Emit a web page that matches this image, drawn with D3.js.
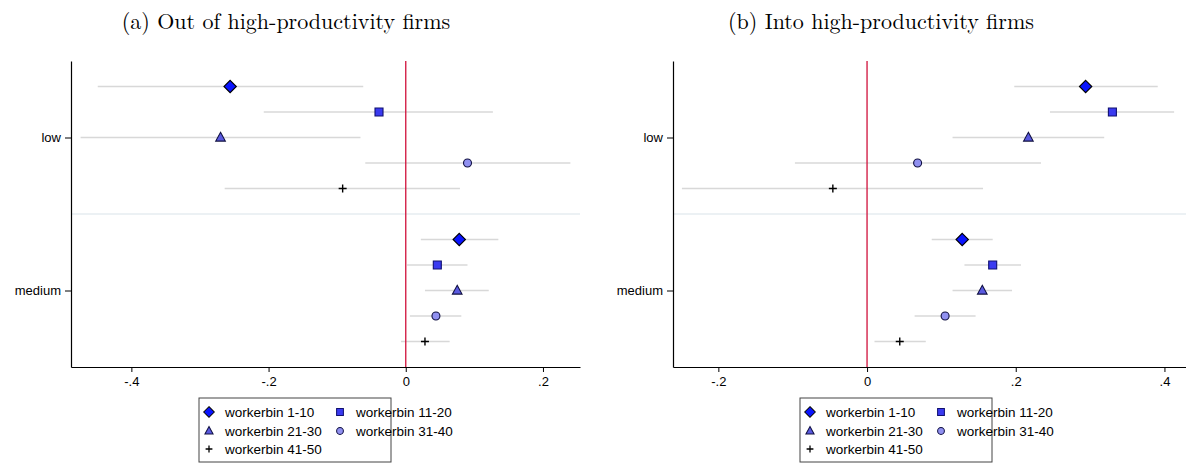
<!DOCTYPE html>
<html>
<head>
<meta charset="utf-8">
<script src="https://cdn.jsdelivr.net/npm/d3@7"></script>
<style>
  html, body { margin: 0; padding: 0; background: #fff; }
  svg { display: block; }
</style>
</head>
<body>
<svg id="chart" width="1186" height="464"></svg>
<script>
// Groups on the vertical axis and the five worker bins plotted in each group
const categories = ["low", "medium"];
const seriesNames = ["workerbin 1-10", "workerbin 11-20", "workerbin 21-30", "workerbin 31-40", "workerbin 41-50"];

// Panel (a): moves out of high-productivity firms — point estimates and 95% bounds
const outLowCoef   = [-0.256, -0.039, -0.270,  0.090, -0.092];
const outLowLo     = [-0.449, -0.207, -0.474, -0.059, -0.264];
const outLowHi     = [-0.062,  0.127, -0.066,  0.240,  0.079];
const outMedCoef   = [ 0.078,  0.046,  0.075,  0.044,  0.028];
const outMedLo     = [ 0.022,  0.002,  0.028,  0.006, -0.007];
const outMedHi     = [ 0.135,  0.090,  0.121,  0.081,  0.064];

// Panel (b): moves into high-productivity firms
const inLowCoef    = [ 0.294,  0.330,  0.217,  0.068, -0.046];
const inLowLo      = [ 0.198,  0.246,  0.115, -0.097, -0.249];
const inLowHi      = [ 0.391,  0.413,  0.319,  0.234,  0.156];
const inMedCoef    = [ 0.128,  0.169,  0.155,  0.105,  0.044];
const inMedLo      = [ 0.087,  0.131,  0.115,  0.064,  0.010];
const inMedHi      = [ 0.169,  0.207,  0.195,  0.146,  0.079];

// Tick values and their printed labels
const outTicks = [-0.4, -0.2, 0, 0.2];
const outTickLabels = ["-.4", "-.2", "0", ".2"];
const inTicks = [-0.2, 0, 0.2, 0.4];
const inTickLabels = ["-.2", "0", ".2", ".4"];

const titles = ["(a) Out of high-productivity firms", "(b) Into high-productivity firms"];

// Marker styling per series
const markerType = ["diamond", "square", "triangle", "circle", "plus"];
const markerFill = ["#0a14ff", "#3a3af0", "#5a5ae0", "#9090f0", "none"];
const markerStroke = ["#000000", "#101070", "#101040", "#101040", "#000000"];

const svg = d3.select("#chart");

function markerPath(type) {
  switch (type) {
    case "diamond": return "M0,-6.2L6.2,0L0,6.2L-6.2,0Z";
    case "square": return d3.symbol(d3.symbolSquare, 64)();
    case "triangle": return "M0,-5.2L4.8,3.6L-4.8,3.6Z";
    case "circle": return d3.symbol(d3.symbolCircle, 50)();
    case "plus": return "M-4,0H4M0,-4V4";
  }
}

function buildRows(coefs, los, his) {
  // one row per (category, series)
  const rows = [];
  categories.forEach((c, ci) => {
    seriesNames.forEach((s, si) => {
      rows.push({ cat: ci + 1, si, coef: coefs[ci][si], lo: los[ci][si], hi: his[ci][si] });
    });
  });
  return rows;
}

function drawPanel(cfg) {
  const g = svg.append("g");
  const x = d3.scaleLinear().domain(cfg.domain).range(cfg.range);
  const y = d3.scaleLinear().domain([0.5, 2.5]).range([61, 367]);
  const offset = d3.scaleLinear().domain([0, 4]).range([-2 / 6, 2 / 6]);

  // separator between the two groups
  g.append("line")
    .attr("x1", cfg.range[0]).attr("x2", cfg.range[1])
    .attr("y1", y(1.5)).attr("y2", y(1.5))
    .attr("stroke", "#e6edf0").attr("stroke-width", 1.5);

  const rows = buildRows(cfg.coef, cfg.lo, cfg.hi);

  // confidence intervals
  g.selectAll("line.ci").data(rows).join("line")
    .attr("class", "ci")
    .attr("x1", d => x(d.lo)).attr("x2", d => x(d.hi))
    .attr("y1", d => y(d.cat + offset(d.si))).attr("y2", d => y(d.cat + offset(d.si)))
    .attr("stroke", "#d8d8d8").attr("stroke-width", 1.5);

  // reference line at zero
  g.append("line")
    .attr("x1", x(0)).attr("x2", x(0))
    .attr("y1", y(0.5)).attr("y2", y(2.5))
    .attr("stroke", "#d0103a").attr("stroke-width", 1.3);

  // point estimates
  g.selectAll("path.pt").data(rows).join("path")
    .attr("class", "pt")
    .attr("transform", d => `translate(${x(d.coef)},${y(d.cat + offset(d.si))})`)
    .attr("d", d => markerPath(markerType[d.si]))
    .attr("fill", d => markerFill[d.si])
    .attr("stroke", d => markerStroke[d.si])
    .attr("stroke-width", d => markerType[d.si] === "plus" ? 1.4 : 1.1);

  // x axis
  const xAxis = d3.axisBottom(x).tickValues(cfg.ticks)
    .tickFormat((d, i) => cfg.tickLabels[i]).tickSize(5).tickSizeOuter(0);
  const xg = g.append("g").attr("transform", `translate(0,${y(2.5)})`).call(xAxis);
  xg.select(".domain").attr("stroke", "#000").attr("stroke-width", 1.2);
  xg.selectAll(".tick line").attr("stroke", "#000");
  xg.selectAll(".tick text")
    .attr("font-family", "Liberation Sans, Arial, sans-serif")
    .attr("font-size", 13).attr("fill", "#000").attr("dy", "0.85em");

  // y axis
  const yAxis = d3.axisLeft(y).tickValues([1, 2])
    .tickFormat(d => categories[d - 1]).tickSize(6).tickSizeOuter(0);
  const yg = g.append("g").attr("transform", `translate(${cfg.range[0]},0)`).call(yAxis);
  yg.select(".domain").attr("stroke", "#000").attr("stroke-width", 1.2);
  yg.selectAll(".tick line").attr("stroke", "#000");
  yg.selectAll(".tick text")
    .attr("font-family", "Liberation Sans, Arial, sans-serif")
    .attr("font-size", 13).attr("fill", "#000").attr("x", -10);

  // panel title
  svg.append("text")
    .attr("x", cfg.titleX).attr("y", 29)
    .attr("text-anchor", "middle")
    .attr("font-family", "Latin Modern Roman, DejaVu Serif, serif")
    .attr("font-size", 22)
    .text(cfg.title);

  // legend
  const lg = svg.append("g").attr("transform", `translate(${cfg.legendX},398)`);
  lg.append("rect").attr("width", 192).attr("height", 64)
    .attr("fill", "#fff").attr("stroke", "#444").attr("stroke-width", 1);
  const slots = [[10, 14], [141, 14], [10, 33], [141, 33], [10, 51]];
  seriesNames.forEach((s, i) => {
    const [lx, ly] = slots[i];
    lg.append("path")
      .attr("transform", `translate(${lx},${ly}) scale(0.85)`)
      .attr("d", markerPath(markerType[i]))
      .attr("fill", markerFill[i])
      .attr("stroke", markerStroke[i])
      .attr("stroke-width", markerType[i] === "plus" ? 1.5 : 1.2);
    lg.append("text")
      .attr("x", lx + 16).attr("y", ly + 4.5)
      .attr("font-family", "Liberation Sans, Arial, sans-serif")
      .attr("font-size", 13.5)
      .text(s);
  });
}

drawPanel({
  domain: [-0.488, 0.254], range: [71, 580],
  coef: [outLowCoef, outMedCoef], lo: [outLowLo, outMedLo], hi: [outLowHi, outMedHi],
  ticks: outTicks, tickLabels: outTickLabels,
  title: titles[0], titleX: 286, legendX: 199
});

drawPanel({
  domain: [-0.261, 0.429], range: [673, 1186],
  coef: [inLowCoef, inMedCoef], lo: [inLowLo, inMedLo], hi: [inLowHi, inMedHi],
  ticks: inTicks, tickLabels: inTickLabels,
  title: titles[1], titleX: 881, legendX: 800
});
</script>
</body>
</html>
